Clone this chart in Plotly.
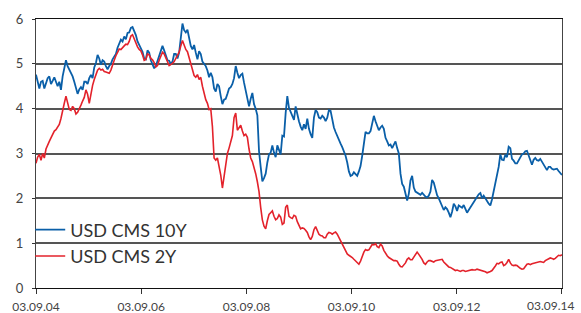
import pandas as pd
import plotly.graph_objects as go

start_date = "2004-09-03"
end_date = "2014-09-03"

usd_cms_10y = [
    4.76, 4.6, 4.45, 4.6, 4.62, 4.45, 4.58, 4.68, 4.72, 4.55, 4.62, 4.7, 4.6, 4.5, 4.6, 4.42, 4.72, 4.93, 5.08, 4.95,
    4.87, 4.78, 4.72, 4.6, 4.45, 4.33, 4.43, 4.48, 4.42, 4.6, 4.6, 4.55, 4.68, 4.75, 4.68, 4.92, 5.02, 5.2, 5.12, 4.98,
    5.08, 5.05, 4.95, 4.88, 4.95, 5.0, 5.1, 5.17, 5.22, 5.36, 5.45, 5.54, 5.5, 5.61, 5.55, 5.69, 5.7, 5.8, 5.82, 5.74,
    5.64, 5.5, 5.43, 5.37, 5.27, 5.12, 5.1, 5.3, 5.25, 5.08, 4.98, 4.9, 4.95, 5.06, 5.15, 5.25, 5.4, 5.3, 5.2, 5.08,
    5.07, 5.0, 5.05, 5.22, 5.22, 5.12, 5.25, 5.6, 5.9, 5.75, 5.7, 5.76, 5.6, 5.4, 5.32, 5.42, 5.25, 5.1, 5.28, 5.22,
    5.05, 5.0, 4.95, 4.85, 4.7, 4.8, 4.7, 4.45, 4.38, 4.55, 4.5, 4.28, 4.1, 4.2, 4.22, 4.33, 4.45, 4.48, 4.55, 4.68,
    4.95, 4.8, 4.68, 4.75, 4.78, 4.58, 4.4, 4.28, 4.05, 4.22, 4.35, 4.1, 4.0, 3.85, 3.05, 2.7, 2.38, 2.45, 2.55, 2.8,
    2.98, 3.02, 3.18, 3.02, 2.92, 3.18, 3.1, 2.98, 3.4, 3.38, 3.9, 4.28, 4.02, 3.94, 3.85, 3.75, 4.05, 3.85, 3.72, 3.6,
    3.52, 3.65, 3.55, 3.78, 3.55, 3.43, 3.35, 3.8, 3.97, 3.92, 3.8, 3.78, 3.84, 3.8, 3.72, 3.8, 3.97, 3.95, 3.75, 3.58,
    3.48, 3.38, 3.3, 3.22, 3.14, 3.05, 2.95, 2.8, 2.6, 2.5, 2.52, 2.58, 2.55, 2.5, 2.6, 2.72, 2.95, 3.2, 3.48, 3.45,
    3.45, 3.5, 3.7, 3.84, 3.72, 3.62, 3.52, 3.58, 3.62, 3.55, 3.35, 3.27, 3.18, 3.2, 3.12, 3.2, 3.27, 3.12, 3.0, 2.55,
    2.32, 2.26, 2.12, 1.95, 2.1, 2.4, 2.5, 2.24, 2.15, 2.13, 2.1, 2.08, 2.12, 2.07, 2.04, 2.02, 2.06, 2.15, 2.41, 2.35,
    2.2, 2.07, 2.0, 1.92, 1.8, 1.74, 1.8, 1.76, 1.68, 1.58, 1.7, 1.88, 1.82, 1.72, 1.84, 1.82, 1.79, 1.85, 1.76, 1.68,
    1.74, 1.8, 1.84, 1.92, 1.97, 2.05, 2.09, 2.12, 2.0, 2.06, 2.01, 1.94, 1.88, 1.84, 1.98, 2.16, 2.3, 2.45, 2.7, 2.98,
    2.86, 2.85, 2.97, 2.92, 3.15, 3.12, 2.88, 2.84, 2.78, 2.78, 2.85, 2.9, 2.98, 3.0, 3.05, 3.06, 2.95, 2.82, 2.75, 2.86,
    2.9, 2.85, 2.84, 2.88, 2.82, 2.74, 2.68, 2.63, 2.7, 2.7, 2.66, 2.64, 2.65, 2.66, 2.61, 2.56, 2.52,
]

usd_cms_2y = [
    2.78, 2.92, 2.98, 2.85, 3.0, 2.9, 3.1, 3.2, 3.27, 3.35, 3.42, 3.5, 3.53, 3.58, 3.65, 3.78, 3.92, 4.12, 4.28, 4.15,
    3.98, 3.96, 4.05, 4.0, 3.88, 3.92, 4.02, 4.08, 4.17, 4.25, 4.42, 4.32, 4.12, 4.35, 4.52, 4.65, 4.78, 4.86, 4.9, 4.86,
    4.88, 4.83, 4.82, 4.8, 4.79, 4.86, 5.0, 5.08, 5.18, 5.27, 5.33, 5.32, 5.37, 5.4, 5.44, 5.43, 5.5, 5.62, 5.65, 5.55,
    5.46, 5.38, 5.32, 5.29, 5.2, 5.08, 5.1, 5.22, 5.2, 5.12, 5.09, 5.03, 4.93, 4.96, 5.08, 5.17, 5.26, 5.22, 5.15, 5.05,
    4.96, 4.98, 5.01, 5.05, 5.11, 5.17, 5.26, 5.4, 5.52, 5.42, 5.32, 5.27, 5.15, 5.03, 4.86, 4.74, 4.7, 4.76, 4.65, 4.7,
    4.5, 4.35, 4.2, 4.12, 3.98, 4.0, 3.6, 2.9, 2.85, 2.9, 2.74, 2.52, 2.23, 2.5, 2.8, 3.0, 3.12, 3.25, 3.4, 3.8,
    3.9, 3.52, 3.57, 3.63, 3.5, 3.4, 3.43, 3.36, 3.1, 2.9, 2.82, 2.7, 2.55, 2.37, 2.15, 1.8, 1.52, 1.38, 1.32, 1.5,
    1.64, 1.68, 1.72, 1.6, 1.52, 1.55, 1.63, 1.58, 1.42, 1.45, 1.8, 1.85, 1.6, 1.57, 1.55, 1.62, 1.6, 1.48, 1.4, 1.32,
    1.34, 1.33, 1.29, 1.24, 1.14, 1.08, 1.15, 1.3, 1.37, 1.3, 1.2, 1.17, 1.16, 1.12, 1.12, 1.2, 1.24, 1.23, 1.2, 1.23,
    1.25, 1.2, 1.12, 1.06, 0.98, 0.9, 0.82, 0.76, 0.73, 0.71, 0.68, 0.64, 0.61, 0.57, 0.53, 0.6, 0.72, 0.8, 0.86, 0.84,
    0.85, 0.9, 0.97, 0.96, 0.99, 0.92, 0.9, 0.98, 0.94, 0.84, 0.77, 0.72, 0.68, 0.65, 0.63, 0.61, 0.61, 0.6, 0.53, 0.48,
    0.47, 0.51, 0.56, 0.64, 0.67, 0.63, 0.63, 0.69, 0.76, 0.8, 0.75, 0.7, 0.64, 0.56, 0.53, 0.58, 0.61, 0.61, 0.59, 0.58,
    0.61, 0.62, 0.62, 0.63, 0.64, 0.58, 0.54, 0.5, 0.47, 0.46, 0.43, 0.41, 0.39, 0.4, 0.39, 0.37, 0.39, 0.39, 0.37, 0.38,
    0.39, 0.39, 0.41, 0.4, 0.4, 0.42, 0.41, 0.39, 0.38, 0.37, 0.36, 0.34, 0.35, 0.37, 0.39, 0.43, 0.49, 0.55, 0.54, 0.57,
    0.58, 0.5, 0.52, 0.57, 0.64, 0.56, 0.51, 0.5, 0.51, 0.5, 0.46, 0.44, 0.42, 0.43, 0.48, 0.53, 0.54, 0.52, 0.54, 0.55,
    0.55, 0.56, 0.57, 0.59, 0.58, 0.57, 0.61, 0.63, 0.65, 0.67, 0.66, 0.64, 0.66, 0.7, 0.73, 0.72, 0.74,
]

tick_dates = ["2004-09-03", "2006-09-03", "2008-09-03", "2010-09-03", "2012-09-03", "2014-09-03"]
tick_labels = ["03.09.04", "03.09.06", "03.09.08", "03.09.10", "03.09.12", "03.09.14"]
y_ticks = [0, 1, 2, 3, 4, 5, 6]

dates = pd.date_range(start_date, end_date, periods=len(usd_cms_10y))

FONT = "Lato"
TICK_COLOR = "#444444"

fig = go.Figure()
fig.add_trace(go.Scatter(x=dates, y=usd_cms_10y, mode="lines", name="USD CMS 10Y",
                         line=dict(color="#0a5fa8", width=1.8)))
fig.add_trace(go.Scatter(x=dates, y=usd_cms_2y, mode="lines", name="USD CMS 2Y",
                         line=dict(color="#e3222b", width=1.6)))

# last date label is drawn right-aligned so it stays inside the page, as in the original
shown_labels = tick_labels[:-1] + [""]
fig.add_annotation(text=tick_labels[-1], xref="paper", yref="paper", x=1, y=0,
                   xanchor="right", yanchor="top", xshift=13, yshift=-9,
                   showarrow=False, borderpad=0,
                   font=dict(family=FONT, size=12, color=TICK_COLOR))

fig.update_layout(
    width=581, height=313,
    margin=dict(l=36, r=19, t=19, b=25, pad=0, autoexpand=False),
    paper_bgcolor="white", plot_bgcolor="white",
    font=dict(family=FONT, size=12, color=TICK_COLOR),
    showlegend=True,
    legend=dict(x=-0.011, y=0.285, xanchor="left", yanchor="top",
                bgcolor="rgba(0,0,0,0)", font=dict(family=FONT, size=18, color="#333333"),
                tracegroupgap=0, itemwidth=30),
)
fig.update_xaxes(
    type="date", range=["2004-09-03", "2014-09-03 12:00"], automargin=False,
    tickvals=tick_dates, ticktext=shown_labels,
    ticks="outside", ticklen=5, tickcolor="#333333",
    showline=True, linecolor="#111111", linewidth=1.2, mirror=True,
    showgrid=False, zeroline=False, ticklabelstandoff=2,
    tickfont=dict(family=FONT, size=12, color=TICK_COLOR),
)
fig.update_yaxes(
    range=[0, 6], tickvals=y_ticks, automargin=False,
    ticks="outside", ticklen=3, tickcolor="#333333",
    showline=True, linecolor="#444444", linewidth=1.2, mirror=True,
    showgrid=True, gridcolor="#555555", gridwidth=1.5,
    zeroline=False, ticklabelstandoff=6,
    tickfont=dict(family=FONT, size=13, color=TICK_COLOR),
)

# remove the browser's default 8px page margin so the figure fills the window
fig.write_html("out.html", config={"displayModeBar": False},
               post_script="document.body.style.margin='0px';")
